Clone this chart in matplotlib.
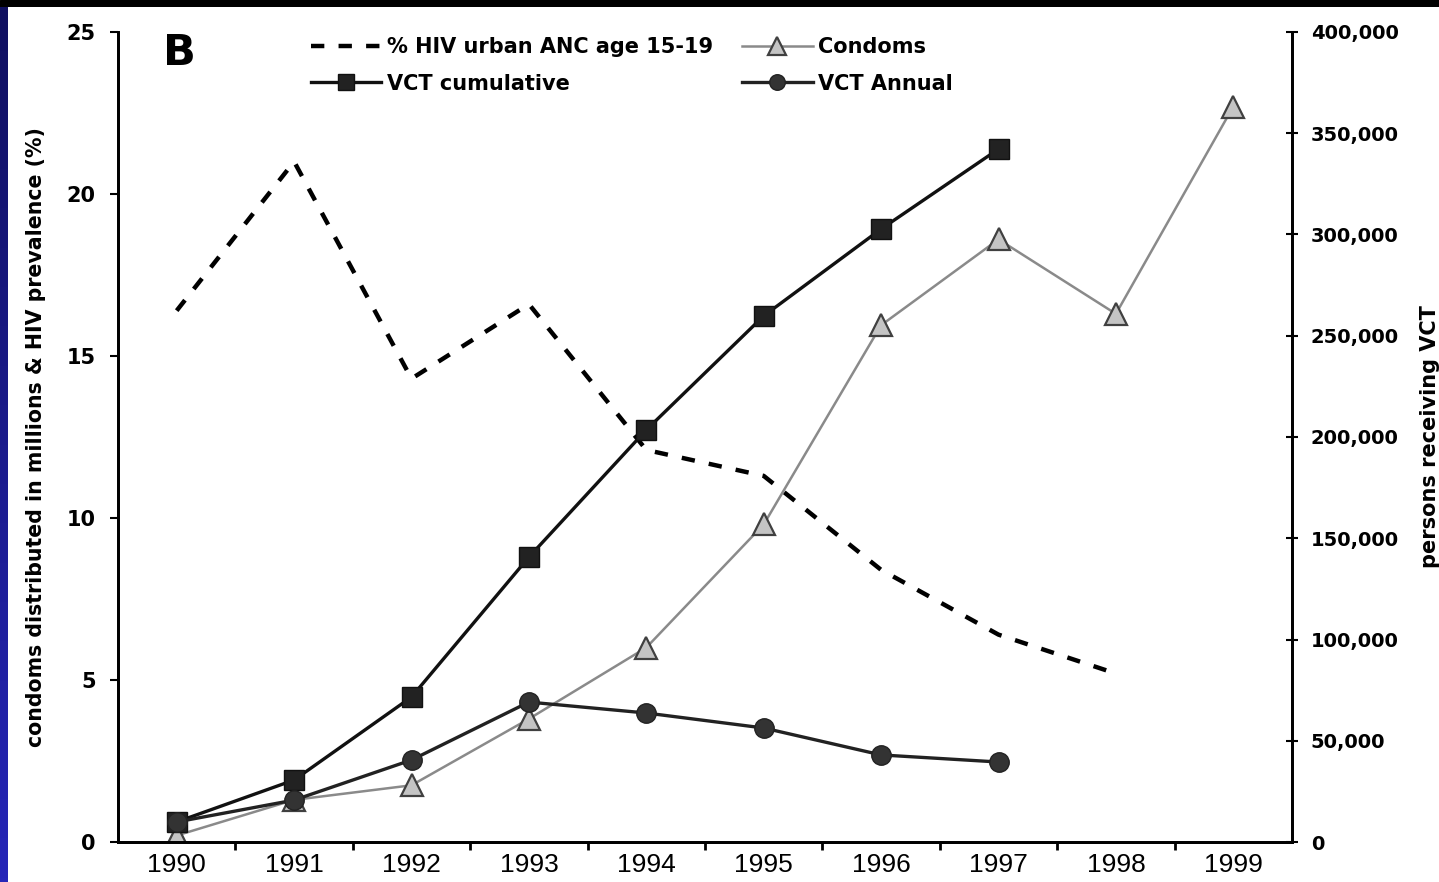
import matplotlib.pyplot as plt
import numpy as np
from matplotlib.ticker import FuncFormatter

plt.rcParams['font.family'] = ['Liberation Sans', 'DejaVu Sans']
BOLD = ['DejaVu Sans']

years = [1990, 1991, 1992, 1993, 1994, 1995, 1996, 1997, 1998, 1999]
hiv_years = [1990, 1991, 1992, 1993, 1994, 1995, 1996, 1997, 1998]
hiv_prev = [16.4, 21.0, 14.3, 16.6, 12.1, 11.3, 8.4, 6.4, 5.2]
condoms = [0.2, 1.3, 1.75, 3.8, 6.0, 9.8, 15.95, 18.6, 16.3, 22.7]
vct_years = [1990, 1991, 1992, 1993, 1994, 1995, 1996, 1997]
vct_cum = [9900, 30600, 71600, 140700, 203500, 259800, 302700, 342200]
vct_annual = [9900, 20700, 40500, 69100, 63700, 56300, 43000, 39500]

fig = plt.figure(figsize=(14.39, 8.82), dpi=100, facecolor='white')

# slide frame strips (top and left)
top = fig.add_axes([0, 1 - 7 / 882, 1, 7 / 882])
top.set_axis_off()
top.add_patch(plt.Rectangle((0, 0), 1, 1, color='black', transform=top.transAxes))
left = fig.add_axes([0, 0, 8 / 1439, 1 - 7 / 882])
grad = np.linspace(0, 1, 200).reshape(-1, 1)
left.imshow(grad, aspect='auto', cmap=plt.matplotlib.colors.LinearSegmentedColormap.from_list(
    'b', ['#2626b8', '#101060']), origin='lower', extent=[0, 1, 0, 1])
left.set_axis_off()

ax = fig.add_axes([118 / 1439, 1 - 842 / 882, (1292 - 118) / 1439, (842 - 32) / 882])
ax2 = ax.twinx()

l_hiv, = ax.plot(hiv_years, hiv_prev, color='black', lw=3.2, dashes=(3, 3.2))
l_con, = ax.plot(years, condoms, color='#8a8a8a', lw=1.8, marker='^', markersize=16,
                 markerfacecolor='#c4c4c4', markeredgecolor='#404040', markeredgewidth=1.6)
l_cum, = ax2.plot(vct_years, vct_cum, color='#111111', lw=2.4, marker='s', markersize=14.5,
                  markerfacecolor='#222222', markeredgecolor='#111111')
l_ann, = ax2.plot(vct_years, vct_annual, color='#222222', lw=2.4, marker='o', markersize=14,
                  markerfacecolor='#333333', markeredgecolor='#222222')

ax.set_xlim(1989.5, 1999.5)
ax.set_ylim(0, 25)
ax2.set_ylim(0, 400000)

ax.set_xticks(years)
ax.set_xticklabels([str(y) for y in years], fontsize=19)
ax.set_xticks([y + 0.5 for y in years[:-1]], minor=True)
ax.tick_params(axis='x', which='major', length=0, pad=8)
ax.tick_params(axis='x', which='minor', length=6, width=2, direction='out')

ax.set_yticks([0, 5, 10, 15, 20, 25])
ax.tick_params(axis='y', length=6, width=1.5, direction='out', pad=10)
for t in ax.get_yticklabels():
    t.set_fontsize(15)
    t.set_fontweight('bold')
    t.set_family(BOLD)

ax2.set_yticks(np.arange(0, 400001, 50000))
ax2.yaxis.set_major_formatter(FuncFormatter(lambda v, p: f'{int(v):,}'))
ax2.tick_params(axis='y', length=9, width=1.5, direction='inout', pad=9)
for t in ax2.get_yticklabels():
    t.set_fontsize(14)
    t.set_fontweight('bold')
    t.set_family(BOLD)

for a in (ax, ax2):
    a.spines['top'].set_visible(False)
    for s in ('left', 'right', 'bottom'):
        a.spines[s].set_linewidth(2)

ax.set_ylabel('condoms distributed in millions & HIV prevalence (%)', fontsize=14.8,
              fontweight='bold', family=BOLD, labelpad=15)
ax2.set_ylabel('persons receiving VCT', fontsize=15, fontweight='bold', family=BOLD,
               labelpad=15)

ax.text(0.038, 0.959, 'B', transform=ax.transAxes, fontsize=31, fontweight='bold',
        va='baseline', ha='left', family=BOLD)

leg = ax.legend([l_hiv, l_cum, l_con, l_ann],
                ['% HIV urban ANC age 15-19', 'VCT cumulative', 'Condoms', 'VCT Annual'],
                ncol=2, frameon=False, loc='upper left', bbox_to_anchor=(0.148, 1.017),
                prop={'size': 15, 'weight': 'bold', 'family': BOLD}, handlelength=3.4,
                handletextpad=0.25, columnspacing=1.4, labelspacing=0.8, numpoints=1,
                markerscale=0.8)
leg.set_zorder(5)

fig.savefig('out.png', dpi=100, facecolor='white')
